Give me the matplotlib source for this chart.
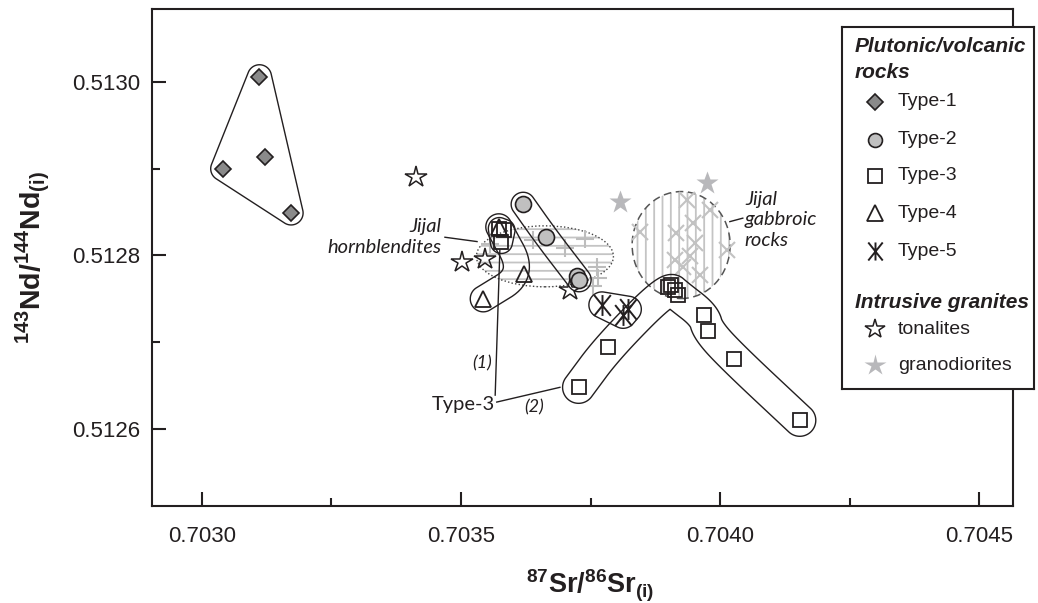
import numpy as np
import matplotlib
matplotlib.use('Agg')
import matplotlib.pyplot as plt
from matplotlib.patches import Ellipse
from matplotlib.path import Path
from matplotlib.ticker import FixedLocator, FormatStrFormatter

# --- data ---------------------------------------------------------------
type1_x = [0.703111, 0.703040, 0.703121, 0.703172]
type1_y = [0.513006, 0.512900, 0.512913, 0.512849]

type2_x = [0.703620, 0.703665, 0.703723, 0.703728]
type2_y = [0.512859, 0.512821, 0.512776, 0.512772]

type3_x = [0.703574, 0.703583, 0.703578, 0.703727, 0.703784, 0.703900,
           0.703906, 0.703913, 0.703919, 0.703969, 0.703977, 0.704027, 0.704154]
type3_y = [0.512831, 0.512829, 0.512815, 0.512648, 0.512694, 0.512764,
           0.512766, 0.512760, 0.512754, 0.512731, 0.512713, 0.512681, 0.512610]

type4_x = [0.703573, 0.703622, 0.703543]
type4_y = [0.512833, 0.512779, 0.512750]

type5_x = [0.703772, 0.703813, 0.703823]
type5_y = [0.512743, 0.512731, 0.512738]

tonalite_x = [0.703413, 0.703501, 0.703546, 0.703710]
tonalite_y = [0.512891, 0.512792, 0.512796, 0.512760]

granodiorite_x = [0.703806, 0.703974]
granodiorite_y = [0.512862, 0.512883]

# Jijal complex samples (grey background symbols)
hbl_x = [0.703556, 0.703639, 0.703701, 0.703739, 0.703762, 0.703765, 0.703754]
hbl_y = [0.512813, 0.512818, 0.512809, 0.512819, 0.512787, 0.512774, 0.512765]

gab_x = [0.703846, 0.703916, 0.703936, 0.703948, 0.703952, 0.703942,
         0.703913, 0.703929, 0.703981, 0.704013, 0.703961]
gab_y = [0.512827, 0.512826, 0.512864, 0.512837, 0.512814, 0.512799,
         0.512795, 0.512787, 0.512852, 0.512806, 0.512778]

# fields: centre x, centre y, width, height
hbl_field = (0.703662, 0.512799, 0.0002645, 0.0000703)
gab_field = (0.703925, 0.512812, 0.0001892, 0.0001233)

x_major = [0.7030, 0.7035, 0.7040, 0.7045]
x_minor = [0.70325, 0.70375, 0.70425]
y_major = [0.5126, 0.5128, 0.5130]
y_minor = [0.5127, 0.5129]

# --- style ----------------------------------------------------------------
INK = '#231f20'
plt.rcParams['font.family'] = ['Liberation Sans', 'DejaVu Sans']
plt.rcParams['mathtext.fontset'] = 'custom'
plt.rcParams['mathtext.bf'] = 'Liberation Sans:bold'
plt.rcParams['mathtext.rm'] = 'Liberation Sans'
plt.rcParams['hatch.linewidth'] = 1.3

asterisk = Path([(-0.8, -1), (0.8, 1), (-0.8, 1), (0.8, -1), (0, -1), (0, 1)],
                [Path.MOVETO, Path.LINETO] * 3)

fig = plt.figure(figsize=(10.38, 6.03), dpi=100)
ax = fig.add_axes([152 / 1038, 97 / 603, 861 / 1038, 497 / 603])
ax.set_xlim(0.7029035, 0.7045656)
ax.set_ylim(0.5125112, 0.5130841)


def chaikin(p, n=4):
    # corner cutting, keeps the end points
    for _ in range(n):
        q = 0.75 * p[:-1] + 0.25 * p[1:]
        s = 0.25 * p[:-1] + 0.75 * p[1:]
        mid = np.empty((2 * len(q), 2))
        mid[0::2] = q
        mid[1::2] = s
        p = np.vstack([p[:1], mid, p[-1:]])
    return p


def field_outline(xs, ys, idx, r, closed=False):
    # smooth envelope at distance r (pixels) around a polyline / polygon
    pts = ax.transData.transform(np.column_stack([np.take(xs, idx), np.take(ys, idx)]))
    line = pts if closed or len(pts) < 3 else chaikin(pts)
    lo = pts.min(axis=0) - r - 6
    hi = pts.max(axis=0) + r + 6
    px = np.arange(lo[0], hi[0], 0.5)
    py = np.arange(lo[1], hi[1], 0.5)
    PX, PY = np.meshgrid(px, py)
    P = np.column_stack([PX.ravel(), PY.ravel()])
    segs = list(zip(line[:-1], line[1:]))
    if closed:
        segs.append((line[-1], line[0]))
    d = np.full(len(P), np.inf)
    for a, b in segs:
        ab = b - a
        t = np.clip(((P - a) @ ab) / (ab @ ab), 0, 1)
        d = np.minimum(d, np.hypot(*(P - (a + t[:, None] * ab)).T))
    if closed:
        d[Path(line).contains_points(P)] = 0
    inv = ax.transData.inverted()
    gx = inv.transform(np.column_stack([px, np.full_like(px, py[0])]))[:, 0]
    gy = inv.transform(np.column_stack([np.full_like(py, px[0]), py]))[:, 1]
    ax.contour(gx, gy, d.reshape(PX.shape), levels=[r], colors=INK,
               linewidths=1.0, zorder=3)


# hatched fields
cx, cy, w, h = hbl_field
ax.add_patch(Ellipse((cx, cy), w, h, facecolor='none', edgecolor='#c4c4c4',
                     hatch='--', lw=0, zorder=1))
ax.add_patch(Ellipse((cx, cy), w, h, facecolor='none', edgecolor='#444444',
                     lw=1.0, ls=(0, (1, 1.6)), zorder=2))
cx, cy, w, h = gab_field
ax.add_patch(Ellipse((cx, cy), w, h, facecolor='none', edgecolor='#c4c4c4',
                     hatch='||', lw=0, zorder=1))
ax.add_patch(Ellipse((cx, cy), w, h, facecolor='none', edgecolor='#555555',
                     lw=1.1, ls=(0, (5, 3)), zorder=2))

ax.plot(hbl_x, hbl_y, ls='none', marker='+', ms=13, mew=1.5, color='#bdbdbd', zorder=2)
ax.plot(gab_x, gab_y, ls='none', marker='x', ms=12, mew=1.5, color='#c2c2c2', zorder=2)

# field outlines
field_outline(type1_x, type1_y, [0, 3, 1], 12, closed=True)
field_outline(type2_x, type2_y, [0, 1, 2, 3], 12)
field_outline(type3_x, type3_y, [0, 1, 2], 11, closed=True)
field_outline(type3_x, type3_y, [3, 4, 5, 8, 9, 10, 11, 12], 16)
field_outline(type4_x, type4_y, [0, 1, 2], 13)
field_outline(type5_x, type5_y, [0, 1, 2], 13, closed=True)

# samples
ax.plot(tonalite_x, tonalite_y, ls='none', marker='*', ms=16, mfc='none', mec=INK, mew=1.1, zorder=4)
ax.plot(granodiorite_x, granodiorite_y, ls='none', marker='*', ms=17, mfc='#b8b8bb', mec='none', zorder=4)
ax.plot(type1_x, type1_y, ls='none', marker='D', ms=8, mfc='#8a8a8a', mec=INK, mew=1.2, zorder=5)
ax.plot(type2_x, type2_y, ls='none', marker='o', ms=11.5, mfc='#c0c0c0', mec=INK, mew=1.2, zorder=5)
ax.plot(type3_x, type3_y, ls='none', marker='s', ms=10.5, mfc='none', mec=INK, mew=1.3, zorder=5)
ax.plot(type4_x, type4_y, ls='none', marker='^', ms=11, mfc='none', mec=INK, mew=1.3, zorder=5)
ax.plot(type5_x, type5_y, ls='none', marker=asterisk, ms=15, mfc='none', mec=INK, mew=1.4, zorder=5)

# labels on the plot
lab = dict(family=['Lato', 'DejaVu Sans'], color=INK)
ax.text(0.703463, 0.512821, 'Jijal\nhornblendites', ha='right', va='center',
        multialignment='right', style='italic', fontsize=14.5, linespacing=1.25, **lab)
ax.plot([0.703469, 0.703531], [0.512821, 0.512816], color=INK, lw=1)
ax.text(0.704048, 0.512841, 'Jijal\ngabbroic\nrocks', ha='left', va='center',
        style='italic', fontsize=14.5, linespacing=1.25, **lab)
ax.plot([0.704019, 0.704044], [0.512839, 0.512843], color=INK, lw=1)
ax.text(0.703504, 0.512628, 'Type-3', ha='center', va='center', fontsize=14.5, **lab)
ax.text(0.703540, 0.512676, '(1)', ha='center', va='center', style='italic', fontsize=13, **lab)
ax.text(0.703641, 0.512625, '(2)', ha='center', va='center', style='italic', fontsize=13, **lab)
ax.plot([0.703566, 0.703575], [0.512639, 0.512806], color=INK, lw=1)
ax.plot([0.703569, 0.703691], [0.512631, 0.512648], color=INK, lw=1)

# axes
for s in ax.spines.values():
    s.set_linewidth(1.5)
    s.set_color(INK)
ax.xaxis.set_major_locator(FixedLocator(x_major))
ax.xaxis.set_minor_locator(FixedLocator(x_minor))
ax.yaxis.set_major_locator(FixedLocator(y_major))
ax.yaxis.set_minor_locator(FixedLocator(y_minor))
ax.xaxis.set_major_formatter(FormatStrFormatter('%.4f'))
ax.yaxis.set_major_formatter(FormatStrFormatter('%.4f'))
ax.tick_params(which='both', direction='in', width=1.5, color=INK, labelcolor=INK,
               labelsize=16, top=False, right=False)
ax.tick_params(which='major', length=10)
ax.tick_params(which='minor', length=5.5)
ax.tick_params(axis='x', pad=14.4)
ax.tick_params(axis='y', pad=8.6)

ax.set_xlabel(r'$^{\mathbf{87}}\mathbf{Sr/}^{\mathbf{86}}\mathbf{Sr}_{\mathbf{(i)}}$',
              fontsize=19.5, color=INK)
ax.xaxis.set_label_coords(0.5087, -0.125)
ax.set_ylabel(r'$^{\mathbf{143}}\mathbf{Nd/}^{\mathbf{144}}\mathbf{Nd}_{\mathbf{(i)}}$',
              fontsize=20.5, color=INK)
ax.yaxis.set_label_coords(-0.116, 0.5)

# legend box (pixel coordinates of the original figure)
lax = fig.add_axes([842 / 1038, 1 - 389 / 603, 192 / 1038, 362 / 603])
lax.set_zorder(5)
lax.set_xlim(842, 1034)
lax.set_ylim(389, 27)
lax.set_xticks([])
lax.set_yticks([])
for s in lax.spines.values():
    s.set_linewidth(1.5)
    s.set_color(INK)

head = dict(fontsize=15, weight='bold', style='italic', va='center', color=INK)
lax.text(855, 47, 'Plutonic/volcanic', **head)
lax.text(855, 72, 'rocks', **head)
lax.text(855, 302, 'Intrusive granites', **head)

legend_rows = [
    (102, 'Type-1', dict(marker='D', ms=8, mfc='#8a8a8a', mec=INK, mew=1.2)),
    (140, 'Type-2', dict(marker='o', ms=10, mfc='#c0c0c0', mec=INK, mew=1.2)),
    (176, 'Type-3', dict(marker='s', ms=10, mfc='none', mec=INK, mew=1.3)),
    (213, 'Type-4', dict(marker='^', ms=11, mfc='none', mec=INK, mew=1.3)),
    (251, 'Type-5', dict(marker=asterisk, ms=13, mfc='none', mec=INK, mew=1.4)),
    (329, 'tonalites', dict(marker='*', ms=15, mfc='none', mec=INK, mew=1.1)),
    (365, 'granodiorites', dict(marker='*', ms=16, mfc='#b8b8bb', mec='none')),
]
for y, name, style in legend_rows:
    lax.plot([875], [y], ls='none', **style)
    lax.text(898, y, name, fontsize=14, va='center', color=INK)

fig.savefig('out.png', dpi=100)
